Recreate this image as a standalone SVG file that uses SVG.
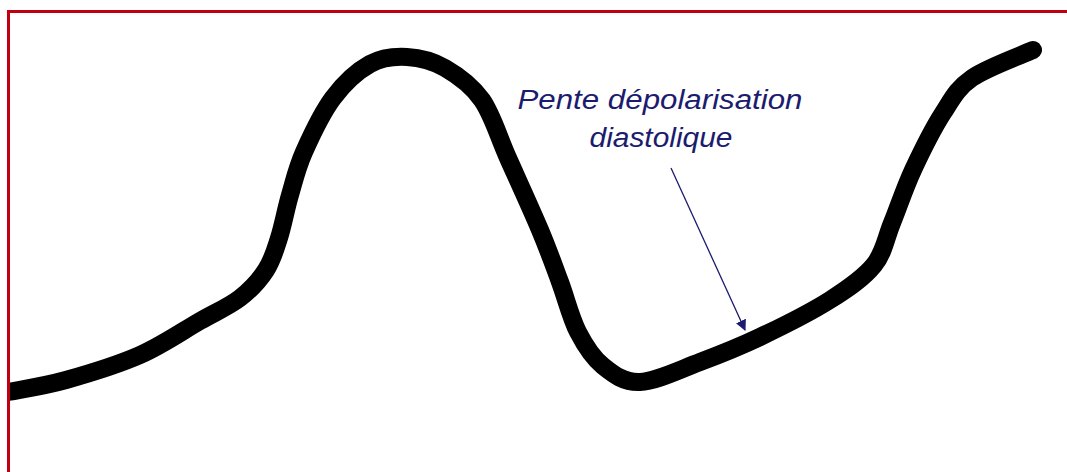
<svg xmlns="http://www.w3.org/2000/svg" width="1067" height="472" viewBox="0 0 1067 472">
<style>
.frame{stroke:#c00010;stroke-width:3;fill:none}
.curve{fill:none;stroke:#000;stroke-width:18;stroke-linecap:round;stroke-linejoin:round}
.lbl{font-family:"Liberation Sans",Arial,sans-serif;font-style:italic;font-size:27px;fill:#1c1c6e}
.arrow{stroke:#1c1c6e;stroke-width:1.3;fill:none}
</style>
<defs>
<marker id="ah" viewBox="0 0 10 10" refX="9" refY="5" markerWidth="11" markerHeight="11" markerUnits="userSpaceOnUse" orient="auto">
<path d="M0,0 L10,5 L0,10 z" fill="#1c1c6e"/>
</marker>
<clipPath id="inner"><rect x="8" y="0" width="1059" height="472"/></clipPath>
</defs>
<rect width="1067" height="472" fill="#fff"/>
<g id="curve" clip-path="url(#inner)">
<path class="curve" d="M4,393 L8,392 C17.7,390 44,386.2 66,380 C88,373.8 117.7,364.8 140,355 C162.3,345.2 183.3,330.5 200,321 C216.7,311.5 229,306.5 240,298 C251,289.5 259.5,280 266,270 C272.5,260 275,250.5 279,238 C283,225.5 285.8,209.3 290,195 C294.2,180.7 296.8,168.2 304,152 C311.2,135.8 322,112.7 333,98 C344,83.3 357.7,70.8 370,64 C382.3,57.2 394.5,56.3 407,57 C419.5,57.7 432.5,60.8 445,68 C457.5,75.2 471.5,85 482,100 C492.5,115 498.3,136.3 508,158 C517.7,179.7 531.3,209.3 540,230 C548.7,250.7 553.7,265 560,282 C566.3,299 570.8,318 578,332 C585.2,346 592.7,357.7 603,366 C613.3,374.3 623.8,382.7 640,382 C656.2,381.3 680,369.5 700,362 C720,354.5 738.3,347.3 760,337 C781.7,326.7 811,312 830,300 C849,288 863.7,277.8 874,265 C884.3,252.2 885.5,238.8 892,223 C898.5,207.2 904.5,188.3 913,170 C921.5,151.7 933.2,128.3 943,113 C952.8,97.7 957,88.5 972,78 C987,67.5 1022.8,54.7 1033,50"/>
</g>
<g id="frame">
<line class="frame" x1="7" y1="11.5" x2="1067" y2="11.5" stroke="#a8101c"/>
<line class="frame" x1="8.5" y1="10" x2="8.5" y2="472"/>
</g>
<g id="label">
<text class="lbl" x="660" y="109" text-anchor="middle" textLength="285" lengthAdjust="spacingAndGlyphs">Pente dépolarisation</text>
<text class="lbl" x="661" y="147" text-anchor="middle" textLength="143" lengthAdjust="spacingAndGlyphs">diastolique</text>
</g>
<g id="connectors">
<line class="arrow" x1="671" y1="168" x2="745" y2="330" marker-end="url(#ah)"/>
</g>
</svg>
